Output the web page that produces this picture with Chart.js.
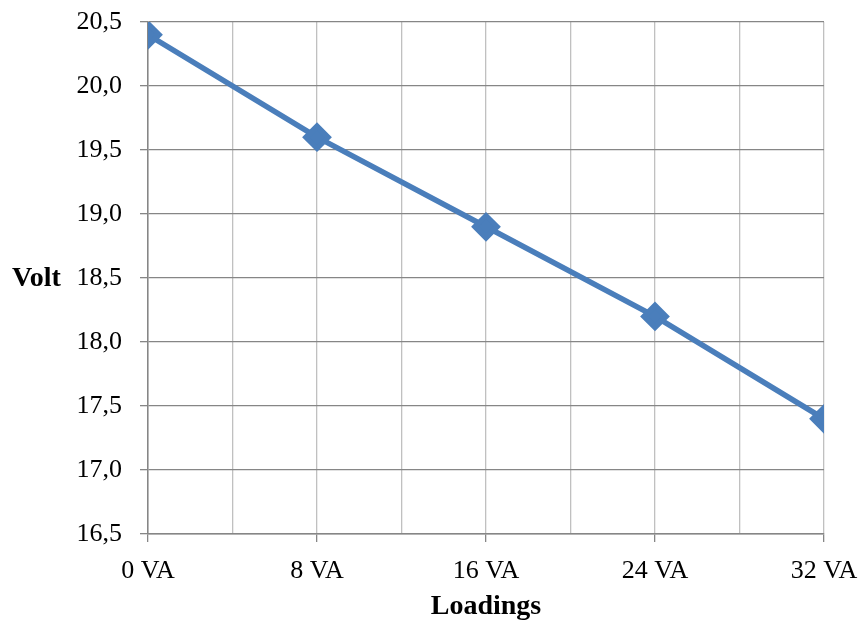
<!DOCTYPE html>
<html>
<head>
<meta charset="utf-8">
<script src="https://cdn.jsdelivr.net/npm/chart.js@4"></script>
<style>
html,body{margin:0;padding:0;background:#fff;}
#wrap{width:863px;height:624px;position:relative;}
</style>
</head>
<body>
<div id="wrap"><canvas id="c"></canvas></div>
<script>
const categories = ['0 VA', '8 VA', '16 VA', '24 VA', '32 VA'];
const loadingsVA = [0, 8, 16, 24, 32];
const volts = [20.4, 19.6, 18.9, 18.2, 17.4];
const yTitle = 'Volt';
const xTitle = 'Loadings';

const FONT = "'Liberation Serif', serif";

const voltTitlePlugin = {
  id: 'voltTitle',
  afterDraw(chart) {
    const ctx = chart.ctx;
    const y = chart.scales.y;
    ctx.save();
    ctx.font = "bold 28px " + FONT;
    ctx.fillStyle = '#000';
    ctx.textAlign = 'left';
    ctx.textBaseline = 'middle';
    ctx.fillText(yTitle, 12, y.getPixelForValue(18.5) + 1);
    ctx.restore();
  }
};

new Chart(document.getElementById('c'), {
  type: 'line',
  data: {
    datasets: [{
      data: loadingsVA.map((x, i) => ({x: x, y: volts[i]})),
      borderColor: '#4A7EBB',
      backgroundColor: '#4A7EBB',
      borderWidth: 5.5,
      pointStyle: 'rectRot',
      pointRadius: 11,
      pointHoverRadius: 11,
      tension: 0
    }]
  },
  plugins: [voltTitlePlugin],
  options: {
    responsive: true,
    maintainAspectRatio: false,
    animation: false,
    layout: {padding: {left: 0, right: 39, top: 22, bottom: 0}},
    plugins: {legend: {display: false}, tooltip: {enabled: false}},
    scales: {
      x: {
        type: 'linear',
        min: 0, max: 32,
        afterFit(s) { s.height = 90; s.paddingLeft = 0; s.paddingRight = 0; },
        ticks: {
          stepSize: 4,
          autoSkip: false,
          maxRotation: 0,
          padding: 14,
          color: '#000',
          font: {family: FONT, size: 26},
          callback(v) {
            const i = loadingsVA.indexOf(v);
            return i >= 0 ? categories[i] : '';
          }
        },
        grid: {
          color: '#C0C0C0',
          lineWidth: 1.3,
          tickLength: 8,
          tickColor(ctx) {
            return ctx.tick && loadingsVA.indexOf(ctx.tick.value) >= 0 ? '#868686' : 'rgba(0,0,0,0)';
          }
        },
        border: {color: '#868686', width: 1.5},
        title: {
          display: true,
          text: xTitle,
          color: '#000',
          font: {family: FONT, size: 28, weight: 'bold'},
          padding: {top: 0, bottom: 0}
        }
      },
      y: {
        min: 16.5, max: 20.5,
        afterFit(s) { s.width = 148; s.paddingTop = 0; s.paddingBottom = 0; },
        ticks: {
          stepSize: 0.5,
          padding: 18,
          color: '#000',
          font: {family: FONT, size: 26},
          callback(v) { return v.toFixed(1).replace('.', ','); }
        },
        grid: {
          color: '#868686',
          lineWidth: 1.3,
          tickLength: 8,
          tickColor: '#868686'
        },
        border: {color: '#868686', width: 1.5}
      }
    }
  }
});
</script>
</body>
</html>
